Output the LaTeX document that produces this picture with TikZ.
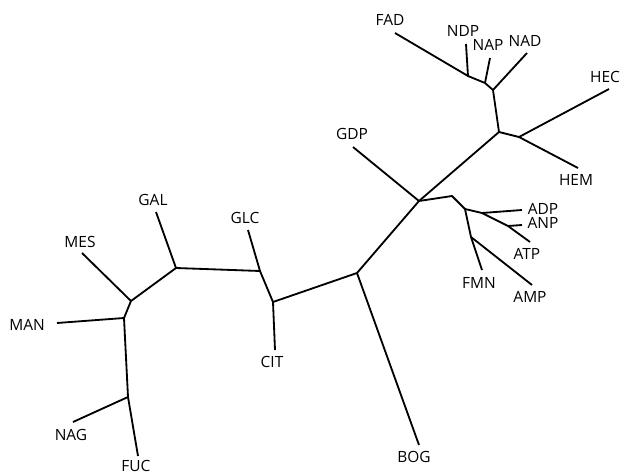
\documentclass[tikz,border=0pt]{standalone}
\usepackage{fontspec}
\setsansfont{Open Sans}
\usepackage{tikz}
\usetikzlibrary{positioning}

\begin{document}
\begin{tikzpicture}[
    x=0.025cm, y=-0.025cm,
    branch/.style={line width=1.3pt, line join=round},
    lbl/.style={font=\sffamily\fontsize{11}{13}\selectfont, inner sep=0pt}
]
\useasboundingbox (0,0) rectangle (621,475);
% inner junctions
\coordinate (iNDP) at (468,76);
\coordinate (iNAP) at (485,83);
\coordinate (iNAD) at (493,90);
\coordinate (iHE) at (499,132);
\coordinate (iHEC) at (519,137);
\coordinate (iGDP) at (419,201);
\coordinate (iR) at (452,196);
\coordinate (iA) at (465,209);
\coordinate (iADP) at (482,213);
\coordinate (iANP) at (508,226);
\coordinate (iFMN) at (471,237);
\coordinate (iBOG) at (357,273);
\coordinate (iCIT) at (273,302);
\coordinate (iGLC) at (260,271);
\coordinate (iGAL) at (176,268);
\coordinate (iMES) at (131,301);
\coordinate (iMAN) at (124,318);
\coordinate (iNAG) at (128,397);
% leaf ends
\coordinate (FAD) at (395,33);
\coordinate (NDP) at (466,44);
\coordinate (NAP) at (490,58);
\coordinate (NAD) at (527,53);
\coordinate (HEC) at (609,89);
\coordinate (HEM) at (578,168);
\coordinate (GDP) at (353,147);
\coordinate (ADP) at (522,210);
\coordinate (ANP) at (522,225);
\coordinate (ATP) at (530,242);
\coordinate (FMN) at (482,270);
\coordinate (AMP) at (532,285);
\coordinate (BOG) at (419,445);
\coordinate (CIT) at (275,350);
\coordinate (GLC) at (248,230);
\coordinate (GAL) at (156,212);
\coordinate (MES) at (82,253);
\coordinate (MAN) at (57,323);
\coordinate (NAG) at (73,422);
\coordinate (FUC) at (138,456);
% labels
\node[lbl] (tFAD) at (390,20) {FAD};
\node[lbl] (tNDP) at (463,31) {NDP};
\node[lbl] (tNAP) at (488,45) {NAP};
\node[lbl] (tNAD) at (525,41) {NAD};
\node[lbl] (tHEC) at (605,77) {HEC};
\node[lbl] (tHEM) at (576,180) {HEM};
\node[lbl] (tGDP) at (352,134) {GDP};
\node[lbl] (tADP) at (543,209) {ADP};
\node[lbl] (tANP) at (543,223) {ANP};
\node[lbl] (tATP) at (527,254) {ATP};
\node[lbl] (tFMN) at (479,283) {FMN};
\node[lbl] (tAMP) at (530,297) {AMP};
\node[lbl] (tBOG) at (414,457) {BOG};
\node[lbl] (tCIT) at (272,362) {CIT};
\node[lbl] (tGLC) at (245,218) {GLC};
\node[lbl] (tGAL) at (153,200) {GAL};
\node[lbl] (tMES) at (80,242) {MES};
\node[lbl] (tMAN) at (27,325) {MAN};
\node[lbl] (tNAG) at (71,435) {NAG};
\node[lbl] (tFUC) at (136,466) {FUC};
% tree
\draw[branch] (FAD) -- (iNDP) -- (iNAP) -- (iNAD) -- (iHE) -- (iGDP) -- (iBOG) -- (iCIT) -- (iGLC) -- (iGAL) -- (iMES) -- (iMAN) -- (iNAG) -- (FUC);
\draw[branch] (iNDP) -- (NDP);
\draw[branch] (iNAP) -- (NAP);
\draw[branch] (iNAD) -- (NAD);
\draw[branch] (iHE) -- (iHEC) -- (HEC);
\draw[branch] (iHEC) -- (HEM);
\draw[branch] (GDP) -- (iGDP) -- (iR) -- (iA) -- (iADP) -- (ADP);
\draw[branch] (iADP) -- (iANP) -- (ATP);
\draw[branch] (iANP) -- (ANP);
\draw[branch] (iA) -- (iFMN) -- (FMN);
\draw[branch] (iFMN) -- (AMP);
\draw[branch] (iBOG) -- (BOG);
\draw[branch] (iCIT) -- (CIT);
\draw[branch] (iGLC) -- (GLC);
\draw[branch] (iGAL) -- (GAL);
\draw[branch] (iMES) -- (MES);
\draw[branch] (iMAN) -- (MAN);
\draw[branch] (iNAG) -- (NAG);
\end{tikzpicture}
\end{document}
